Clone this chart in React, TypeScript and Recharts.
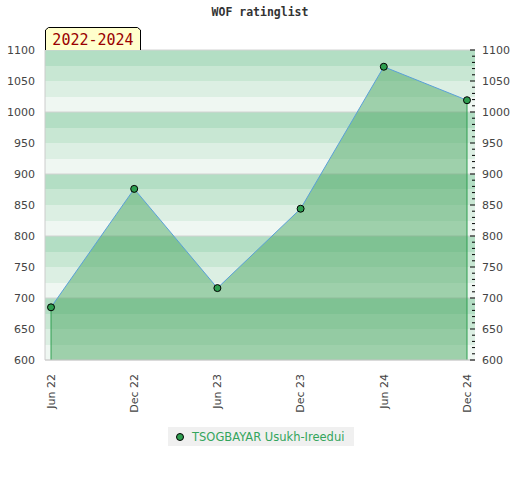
import React from "react";
import {
  AreaChart,
  Area,
  XAxis,
  YAxis,
  CartesianGrid,
  ReferenceLine,
} from "recharts";

const months = ["Jun 22", "Dec 22", "Jun 23", "Dec 23", "Jun 24", "Dec 24"];
const ratings = [685, 876, 716, 844, 1073, 1019];
const playerName = "TSOGBAYAR Usukh-Ireedui";
const periodLabel = "2022-2024";

const Y_MIN = 600;
const Y_MAX = 1100;

const bandTicks: number[] = [];
for (let v = Y_MIN; v <= Y_MAX; v += 25) bandTicks.push(v);
const minorTicks: number[] = [];
for (let v = Y_MIN; v <= Y_MAX; v += 10) minorTicks.push(v);
const gridValues: number[] = [];
for (let v = Y_MIN; v <= Y_MAX; v += 100) gridValues.push(v);

const data = months.map((m, i) => ({ month: m, rating: ratings[i] }));

const BANDS = ["#b3dec4", "#c8e7d3", "#dcefe3", "#eff7f2"];
const GREEN = "#2e9e50";
const FONT = "'DejaVu Sans', sans-serif";
const MONO = "'DejaVu Sans Mono', monospace";

const MonthTick = ({ x, y, payload }: any) => (
  <g transform={`translate(${x},${y}) rotate(-90)`}>
    <text
      x={-6}
      y={0}
      dy="0.35em"
      textAnchor="end"
      fill="#444"
      fontSize={11}
      fontFamily={FONT}
    >
      {payload.value}
    </text>
  </g>
);

const RightTick = ({ x, y, payload }: any) => {
  const major = payload.value % 50 === 0;
  return (
    <g>
      <line x1={x - (major ? 5 : 3)} x2={x} y1={y} y2={y} stroke="#000" />
      {major && (
        <text
          x={x + 7}
          y={y}
          dy="0.35em"
          fill="#444"
          fontSize={11}
          fontFamily={FONT}
        >
          {payload.value}
        </text>
      )}
    </g>
  );
};

const App = () => {
  return (
    <div
      style={{
        position: "absolute",
        left: 0,
        top: 0,
        width: 520,
        height: 480,
        background: "#fff",
      }}
    >
      <div
        style={{
          position: "absolute",
          top: 5,
          width: 520,
          textAlign: "center",
          fontFamily: MONO,
          fontWeight: "bold",
          fontSize: 11.5,
          color: "#333",
        }}
      >
        WOF ratinglist
      </div>

      <AreaChart
        width={520}
        height={480}
        data={data}
        margin={{ top: 50, right: 0, bottom: 0, left: 0 }}
      >
        <CartesianGrid
          vertical={false}
          stroke="none"
          horizontalFill={BANDS}
        />
        <CartesianGrid
          vertical={false}
          stroke="#d2d2d2"
          horizontalValues={gridValues}
        />
        <XAxis
          dataKey="month"
          height={120}
          padding={{ left: 6, right: 8 }}
          interval={0}
          axisLine={{ stroke: "#cccccc" }}
          tickLine={false}
          tick={<MonthTick />}
        />
        <YAxis
          width={45}
          domain={[Y_MIN, Y_MAX]}
          ticks={bandTicks}
          interval={0}
          tickSize={0}
          tickMargin={10}
          axisLine={{ stroke: "#cccccc" }}
          tickLine={false}
          tickFormatter={(v) => (v % 50 === 0 ? String(v) : "")}
          tick={{ fill: "#444", fontSize: 11, fontFamily: FONT }}
        />
        <YAxis
          yAxisId="right"
          orientation="right"
          width={45}
          domain={[Y_MIN, Y_MAX]}
          allowDataOverflow
          ticks={minorTicks}
          interval={0}
          tickSize={0}
          tickMargin={0}
          axisLine={false}
          tickLine={false}
          tick={<RightTick />}
        />
        <Area
          type="linear"
          dataKey="rating"
          baseValue={Y_MIN}
          stroke="#5aa0d8"
          strokeWidth={1}
          fill="#45a45b"
          fillOpacity={0.47}
          dot={{ r: 3.5, fill: GREEN, stroke: "#000", strokeWidth: 1, fillOpacity: 1 }}
          activeDot={false}
          isAnimationActive={false}
        />
        {/* invisible copy so the right axis gets a domain */}
        <Area
          yAxisId="right"
          type="linear"
          dataKey="rating"
          stroke="none"
          fill="none"
          dot={false}
          activeDot={false}
          legendType="none"
          isAnimationActive={false}
        />
        <ReferenceLine
          segment={[
            { x: months[0], y: Y_MIN },
            { x: months[0], y: ratings[0] },
          ]}
          stroke={GREEN}
        />
        <ReferenceLine
          segment={[
            { x: months[months.length - 1], y: Y_MIN },
            { x: months[months.length - 1], y: ratings[ratings.length - 1] },
          ]}
          stroke={GREEN}
        />
      </AreaChart>

      <svg
        width={100}
        height={30}
        style={{ position: "absolute", left: 44, top: 26 }}
      >
        <path
          d="M1.5,24 L1.5,4 L4.5,1.5 L93.5,1.5 L96.5,4 L96.5,24"
          fill="#ffffcc"
          stroke="#000"
          strokeWidth={1}
        />
        <text
          x={49}
          y={19}
          textAnchor="middle"
          fill="#990000"
          fontSize={15}
          fontFamily={MONO}
        >
          {periodLabel}
        </text>
      </svg>

      <div
        style={{
          position: "absolute",
          left: 168,
          top: 427,
          width: 186,
          height: 19,
          background: "#f0f0f0",
          display: "flex",
          alignItems: "center",
          fontFamily: FONT,
          fontSize: 11.5,
          color: "#33a55c",
        }}
      >
        <span
          style={{
            display: "inline-block",
            width: 6,
            height: 6,
            borderRadius: "50%",
            background: GREEN,
            border: "1px solid #000",
            marginLeft: 8,
            marginRight: 8,
          }}
        />
        {playerName}
      </div>
    </div>
  );
};

export default App;
